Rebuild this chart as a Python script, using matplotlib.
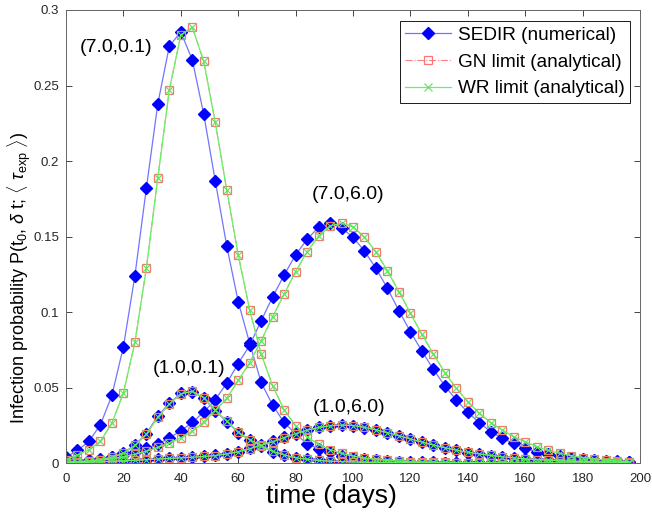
import matplotlib
matplotlib.use("Agg")
import matplotlib.pyplot as plt

plt.rcParams['font.family'] = ['Liberation Sans', 'DejaVu Sans']
plt.rcParams['mathtext.fontset'] = 'custom'
plt.rcParams['mathtext.rm'] = 'Liberation Sans'
plt.rcParams['mathtext.it'] = 'Liberation Sans:italic'
plt.rcParams['mathtext.bf'] = 'Liberation Sans:bold'

# sampling days (every 4 days)
days = list(range(0, 200, 4))

# (7.0, 0.1)
sedir_70_01 = [0.004, 0.0085, 0.0145, 0.0255, 0.045, 0.077, 0.124, 0.182, 0.238, 0.276,
               0.2855, 0.267, 0.231, 0.187, 0.144, 0.107, 0.0795, 0.0535, 0.0385, 0.027,
               0.0195, 0.0128, 0.0097, 0.0072, 0.0050, 0.0036, 0.0026, 0.0019, 0.0014, 0.0011,
               0.0009, 0.0007, 0.0006, 0.0005, 0.0004, 0.0004, 0.0003, 0.0003, 0.0003, 0.0002,
               0.0002, 0.0002, 0.0002, 0.0001, 0.0001, 0.0001, 0.0001, 0.0001, 0.0001, 0.0001]
gn_70_01 = [0.0025, 0.0055, 0.009, 0.0145, 0.0266, 0.0465, 0.080, 0.129, 0.189, 0.247,
            0.2835, 0.2885, 0.266, 0.2257, 0.181, 0.138, 0.1015, 0.0723, 0.0513, 0.0354,
            0.0249, 0.0176, 0.0125, 0.0090, 0.0066, 0.0048, 0.0035, 0.0026, 0.0019, 0.0014,
            0.0011, 0.0009, 0.0007, 0.0006, 0.0005, 0.0004, 0.0004, 0.0003, 0.0003, 0.0003,
            0.0002, 0.0002, 0.0002, 0.0002, 0.0001, 0.0001, 0.0001, 0.0001, 0.0001, 0.0001]

# (1.0, 0.1)
sedir_10_01 = [0.0006, 0.001, 0.0015, 0.0024, 0.004, 0.0068, 0.0122, 0.0197, 0.0313, 0.0397,
               0.0463, 0.0474, 0.0430, 0.0348, 0.0276, 0.0203, 0.0154, 0.0115, 0.0077, 0.0055,
               0.0035, 0.0026, 0.0019, 0.0014, 0.0011, 0.0009, 0.0007, 0.0006, 0.0005, 0.0004,
               0.0004, 0.0003, 0.0003, 0.0003, 0.0002, 0.0002, 0.0002, 0.0002, 0.0002, 0.0001,
               0.0001, 0.0001, 0.0001, 0.0001, 0.0001, 0.0001, 0.0001, 0.0001, 0.0001, 0.0001]
gn_10_01 = [0.0006, 0.001, 0.0015, 0.0024, 0.004, 0.0066, 0.0118, 0.0192, 0.0305, 0.0392,
            0.0460, 0.0476, 0.0435, 0.0352, 0.0280, 0.0206, 0.0157, 0.0117, 0.0079, 0.0056,
            0.0036, 0.0027, 0.0019, 0.0014, 0.0011, 0.0009, 0.0007, 0.0006, 0.0005, 0.0004,
            0.0004, 0.0003, 0.0003, 0.0003, 0.0002, 0.0002, 0.0002, 0.0002, 0.0002, 0.0001,
            0.0001, 0.0001, 0.0001, 0.0001, 0.0001, 0.0001, 0.0001, 0.0001, 0.0001, 0.0001]

# (7.0, 6.0)
sedir_70_60 = [0.001, 0.0015, 0.002, 0.003, 0.004, 0.0055, 0.0075, 0.0098, 0.0128, 0.0166,
               0.0216, 0.027, 0.034, 0.042, 0.053, 0.066, 0.078, 0.0944, 0.110, 0.1246,
               0.1379, 0.1482, 0.1562, 0.1590, 0.1558, 0.1496, 0.1405, 0.129, 0.1158, 0.101,
               0.0871, 0.0743, 0.0622, 0.0512, 0.0419, 0.0337, 0.0269, 0.0209, 0.0165, 0.0132,
               0.0099, 0.0077, 0.0062, 0.0048, 0.0038, 0.0028, 0.0021, 0.0016, 0.0012, 0.0009]
gn_70_60 = [0.0007, 0.001, 0.0015, 0.002, 0.003, 0.0042, 0.006, 0.008, 0.0105, 0.0135,
            0.0168, 0.0212, 0.0272, 0.035, 0.043, 0.0548, 0.0666, 0.0811, 0.097, 0.112,
            0.1268, 0.140, 0.1504, 0.157, 0.1590, 0.1566, 0.1496, 0.140, 0.1273, 0.1136,
            0.0993, 0.0854, 0.0723, 0.060, 0.0496, 0.0408, 0.0331, 0.0269, 0.022, 0.0176,
            0.0143, 0.011, 0.0085, 0.0066, 0.0051, 0.0038, 0.0028, 0.0021, 0.0015, 0.0011]

# (1.0, 6.0)
sedir_10_60 = [0.0003, 0.0005, 0.0007, 0.001, 0.0013, 0.0016, 0.002, 0.0024, 0.0028, 0.0032,
               0.0036, 0.004, 0.0045, 0.0052, 0.0063, 0.0077, 0.0098, 0.0122, 0.0145, 0.0172,
               0.0198, 0.022, 0.0238, 0.0248, 0.0252, 0.0248, 0.0235, 0.0218, 0.0200, 0.0180,
               0.0158, 0.0138, 0.0118, 0.0100, 0.0085, 0.0071, 0.0060, 0.0050, 0.0042, 0.0035,
               0.0029, 0.0024, 0.0020, 0.0017, 0.0014, 0.0012, 0.0010, 0.0008, 0.0007, 0.0006]
gn_10_60 = [0.0003, 0.0005, 0.0007, 0.001, 0.0013, 0.0016, 0.002, 0.0024, 0.0028, 0.0032,
            0.0036, 0.004, 0.0045, 0.0051, 0.0062, 0.0076, 0.0096, 0.0120, 0.0143, 0.0170,
            0.0196, 0.0219, 0.0237, 0.0248, 0.0253, 0.0250, 0.0238, 0.0221, 0.0203, 0.0183,
            0.0161, 0.0141, 0.0121, 0.0103, 0.0087, 0.0073, 0.0062, 0.0052, 0.0043, 0.0036,
            0.0030, 0.0025, 0.0021, 0.0017, 0.0014, 0.0012, 0.0010, 0.0008, 0.0007, 0.0006]

# WR limit sits on top of the GN limit
wr_70_01 = gn_70_01
wr_10_01 = gn_10_01
wr_70_60 = gn_70_60
wr_10_60 = gn_10_60

sedir_all = [sedir_70_01, sedir_10_01, sedir_70_60, sedir_10_60]
gn_all = [gn_70_01, gn_10_01, gn_70_60, gn_10_60]
wr_all = [wr_70_01, wr_10_01, wr_70_60, wr_10_60]

labels = ['(7.0,0.1)', '(1.0,0.1)', '(7.0,6.0)', '(1.0,6.0)']
label_pos = [(17.5, 0.2755), (43, 0.0625), (98.3, 0.1776), (98.6, 0.037)]

xticks = list(range(0, 201, 20))
yticks = [0, 0.05, 0.1, 0.15, 0.2, 0.25, 0.3]
ytick_labels = ['0', '0.05', '0.1', '0.15', '0.2', '0.25', '0.3']

fig = plt.figure(figsize=(6.52, 5.15), dpi=100)
ax = fig.add_axes([0.1012, 0.1004, 0.8804, 0.8802])

for i in range(4):
    ax.plot(days, sedir_all[i], '-', color=(0.45, 0.45, 1.0), lw=0.9,
            marker='D', ms=6.5, mfc='blue', mec='blue',
            label='SEDIR (numerical)' if i == 0 else None)
for i in range(4):
    ax.plot(days, gn_all[i], '-.', color=(1.0, 0.5, 0.5), lw=0.8,
            marker='s', ms=6, mfc='none', mec=(1.0, 0.45, 0.45), mew=0.9,
            label='GN limit (analytical)' if i == 0 else None)
for i in range(4):
    ax.plot(days, wr_all[i], '-', color=(0.4, 0.95, 0.4), lw=0.9,
            marker='x', ms=6, mec=(0.35, 0.9, 0.35), mew=0.8,
            label='WR limit (analytical)' if i == 0 else None)

for lab, (x, y) in zip(labels, label_pos):
    ax.text(x, y, lab, fontsize=14, ha='center', va='center')

ax.set_xlim(0, 200)
ax.set_ylim(0, 0.3)
ax.set_xticks(xticks)
ax.set_yticks(yticks)
ax.set_yticklabels(ytick_labels)
ax.tick_params(direction='in', length=4, width=0.6, top=True, right=True,
               labelsize=9.5, colors='0.15')
ax.tick_params(axis='x', pad=7)
ax.tick_params(axis='y', pad=5)
for s in ax.spines.values():
    s.set_color('0.4')
    s.set_linewidth(0.7)

ax.set_xlabel('time (days)', fontsize=19)
ax.xaxis.set_label_coords(0.462, -0.045)
ax.set_ylabel(r'Infection probability P(t$_0$, $\delta$ t; $\langle$ $\tau_{\rm exp}$ $\rangle$)',
              fontsize=13)
ax.yaxis.set_label_coords(-0.0575, 0.409)

leg = ax.legend(loc='upper right', bbox_to_anchor=(0.9826, 0.9764), borderaxespad=0,
                fontsize=13.7, handlelength=2.4, handletextpad=0.35, labelspacing=0.5,
                borderpad=0.3, fancybox=False, framealpha=1)
leg.get_frame().set_edgecolor('0.1')
leg.get_frame().set_linewidth(0.7)

fig.savefig('out.png', dpi=100)
